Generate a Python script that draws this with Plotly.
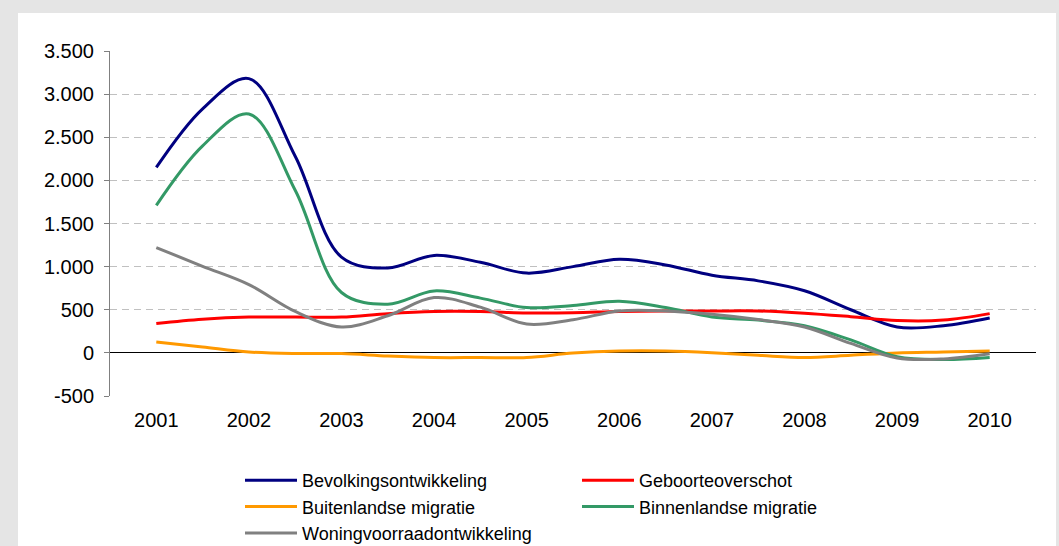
import plotly.graph_objects as go

# Half-year periods from 2001 to 2010
periods = [2001.0, 2001.5, 2002.0, 2002.5, 2003.0, 2003.5, 2004.0, 2004.5, 2005.0, 2005.5,
           2006.0, 2006.5, 2007.0, 2007.5, 2008.0, 2008.5, 2009.0, 2009.5, 2010.0]

year_labels = ["2001", "2002", "2003", "2004", "2005", "2006", "2007", "2008", "2009", "2010"]
year_positions = [2001, 2002, 2003, 2004, 2005, 2006, 2007, 2008, 2009, 2010]

y_tick_values = [-500, 0, 500, 1000, 1500, 2000, 2500, 3000, 3500]
y_tick_labels = ["-500", "0", "500", "1.000", "1.500", "2.000", "2.500", "3.000", "3.500"]

bevolkingsontwikkeling = [2150, 2830, 3180, 2280, 1110, 985, 1130, 1050, 925, 1000,
                          1085, 1020, 900, 835, 720, 500, 300, 315, 405]
geboorteoverschot = [340, 390, 415, 415, 415, 455, 480, 480, 463, 465,
                     480, 485, 486, 486, 460, 420, 375, 380, 455]
buitenlandse_migratie = [126, 68, 10, -8, -8, -36, -54, -54, -54, -2,
                         22, 22, 2, -28, -54, -28, 0, 10, 22]
binnenlandse_migratie = [1710, 2400, 2770, 1885, 700, 565, 718, 635, 525, 550,
                         598, 525, 416, 380, 315, 150, -45, -78, -54]
woningvoorraadontwikkeling = [1221, 1004, 792, 480, 300, 430, 641, 530, 335, 385,
                              486, 486, 447, 386, 300, 110, -60, -70, -10]

series = [
    ("Bevolkingsontwikkeling", bevolkingsontwikkeling, "#000080"),
    ("Geboorteoverschot", geboorteoverschot, "#ff0000"),
    ("Buitenlandse migratie", buitenlandse_migratie, "#ff9900"),
    ("Binnenlandse migratie", binnenlandse_migratie, "#339966"),
    ("Woningvoorraadontwikkeling", woningvoorraadontwikkeling, "#808080"),
]

FONT = "Liberation Sans, Arial, sans-serif"

fig = go.Figure()
for name, values, color in series:
    fig.add_trace(go.Scatter(
        x=periods, y=values, name=name, mode="lines",
        line=dict(color=color, width=3, shape="spline", smoothing=1.0),
    ))

W, H = 1059, 546
L, R, T, B = 110, 23, 51, 150
pw, ph = W - L - R, H - T - B

def px_x(x):
    return (x - L) / pw

def px_y(y):
    return (H - B - y) / ph

# white card behind the chart
fig.add_shape(type="rect", xref="paper", yref="paper", layer="below",
              x0=px_x(18), x1=px_x(1056), y0=px_y(560), y1=px_y(13),
              fillcolor="white", line=dict(width=0))

fig.update_layout(
    width=W, height=H,
    margin=dict(l=L, r=R, t=T, b=B, autoexpand=False),
    paper_bgcolor="#e5e5e5",
    plot_bgcolor="white",
    font=dict(family=FONT, size=20, color="black"),
    showlegend=True,
    legend=dict(
        orientation="h", xref="container", yref="container",
        x=240 / W, xanchor="left", y=1 - 462 / H, yanchor="top",
        bgcolor="rgba(0,0,0,0)", font=dict(size=18, family=FONT),
        entrywidth=270, itemwidth=52, tracegroupgap=0,
    ),
    xaxis=dict(
        range=[2000.5, 2010.5], tickvals=year_positions, ticktext=year_labels,
        ticks="", showline=False, showgrid=False, zeroline=False,
        ticklabelstandoff=10, tickfont=dict(size=20), automargin=False,
    ),
    xaxis2=dict(
        overlaying="x", anchor="free", position=0.125, side="bottom",
        range=[2000.5, 2010.5], showline=True, linecolor="black", linewidth=1,
        ticks="outside", ticklen=6, tickcolor="#444444", tickwidth=1,
        tickvals=[2000.5 + k for k in range(11)], showticklabels=False,
        showgrid=False, zeroline=False,
    ),
    yaxis=dict(
        range=[-500, 3500], tickvals=y_tick_values, ticktext=y_tick_labels,
        showline=True, linecolor="#808080", linewidth=1,
        ticks="outside", ticklen=5, tickcolor="#808080",
        showgrid=True, gridcolor="#c0c0c0", gridwidth=1, griddash="7px,5px",
        zeroline=True, zerolinecolor="black", zerolinewidth=1,
        tickfont=dict(size=20), ticklabelstandoff=6, automargin=False,
    ),
)

fig.write_html("out.html")
